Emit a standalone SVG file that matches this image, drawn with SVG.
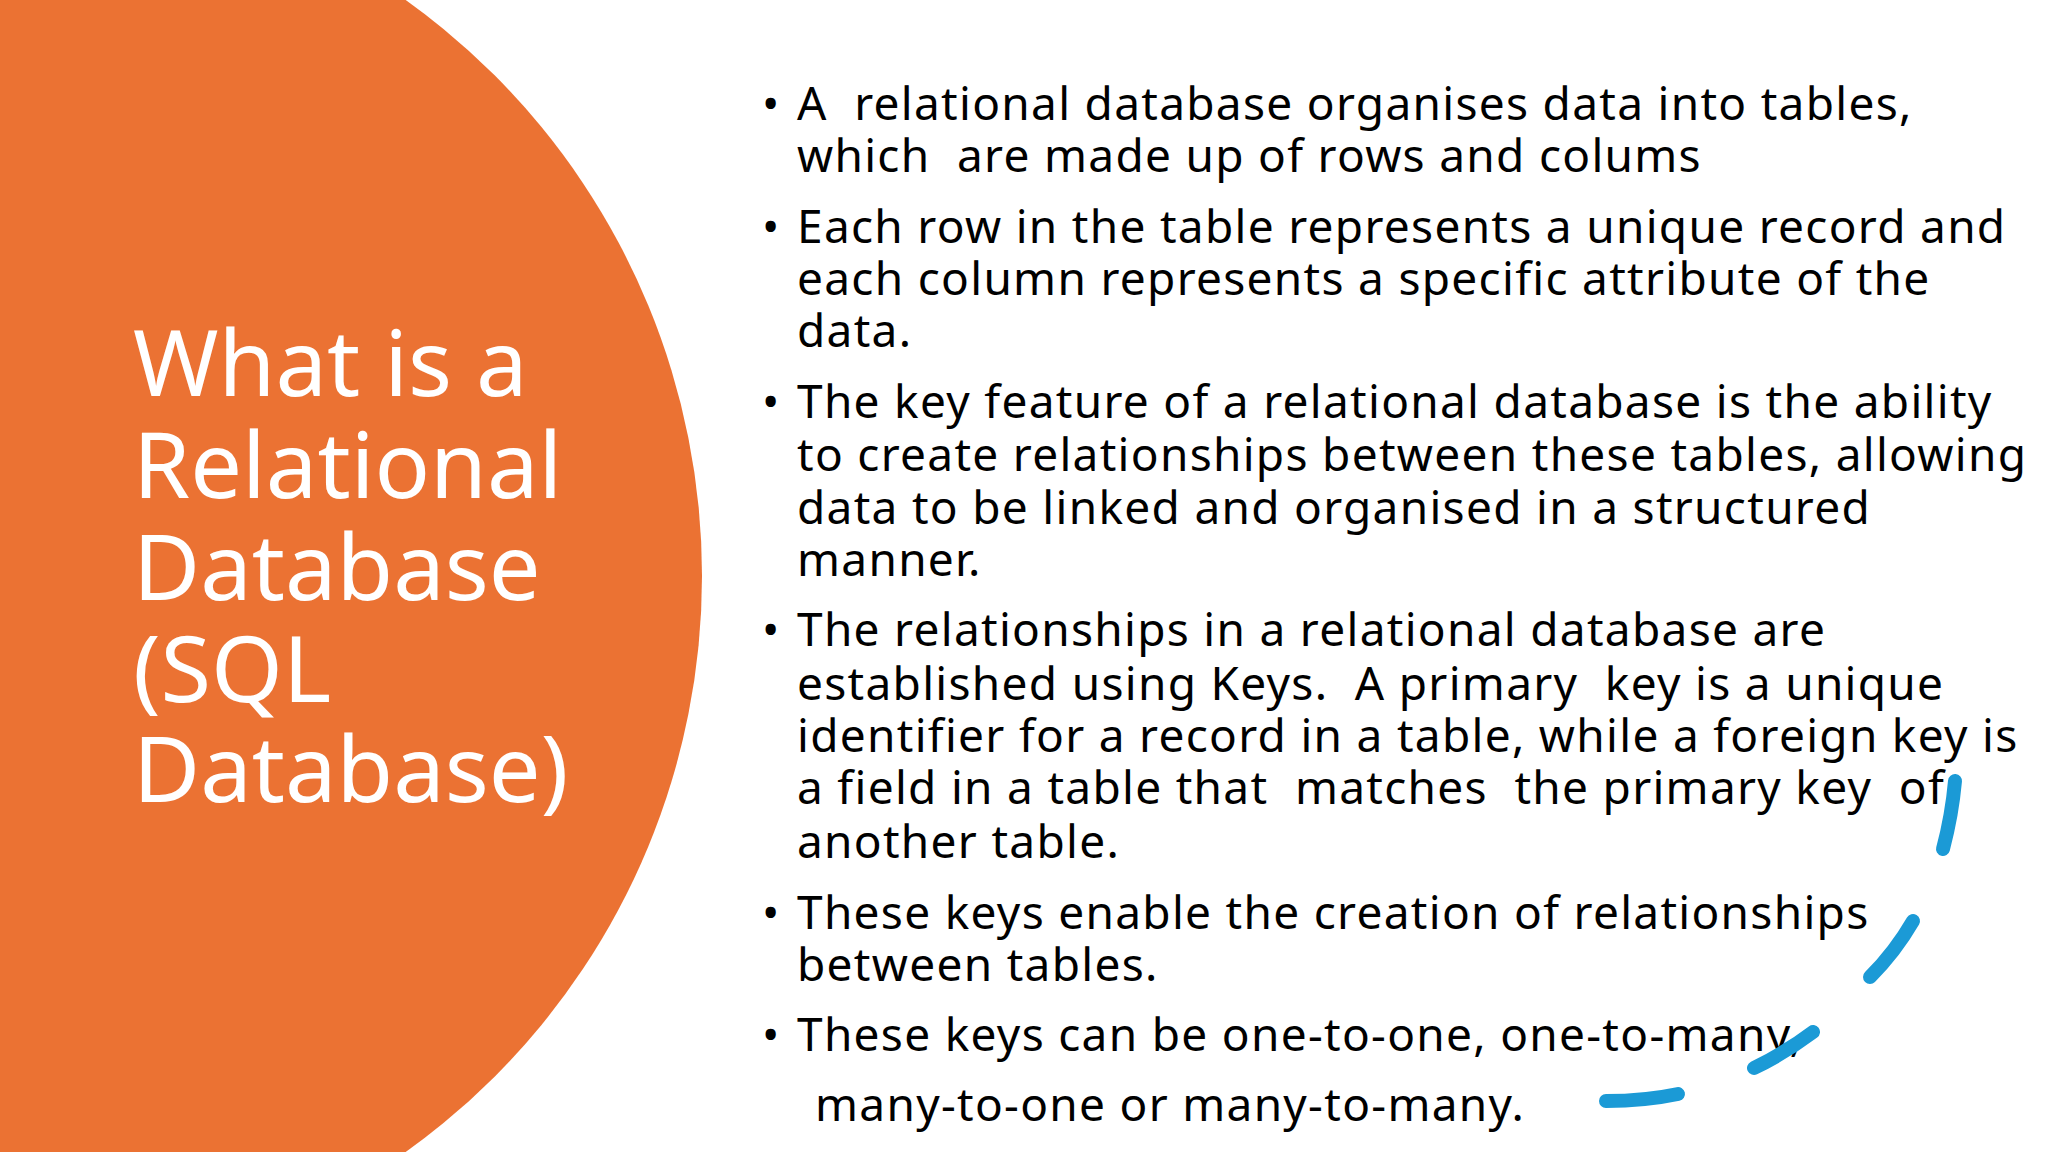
<svg xmlns="http://www.w3.org/2000/svg" width="2048" height="1152" viewBox="0 0 2048 1152">
<style>
.t{font-family:"Noto Sans","Open Sans",sans-serif;fill:#fff;font-size:92px}
.b{font-family:"Noto Sans","Open Sans",sans-serif;fill:#000;font-size:46px;letter-spacing:1.3px}
.p{fill:none;stroke:#1B9AD6;stroke-width:14;stroke-linecap:round}
</style>
<rect width="2048" height="1152" fill="#fff"/>
<g id="circle"><circle cx="-6" cy="576" r="708" fill="#EB7233"/>
<text class="t" x="133" y="396">What is a</text>
<text class="t" x="133" y="498">Relational</text>
<text class="t" x="133" y="600">Database</text>
<text class="t" x="133" y="702">(SQL</text>
<text class="t" x="133" y="802">Database)</text></g>
<g id="bullets">
<text class="b" x="762" y="120">•</text><text class="b" x="797" y="120">A&#160; relational database organises data into tables,</text>
<text class="b" x="797" y="172">which&#160; are made up of rows and colums</text>
<text class="b" x="762" y="243">•</text><text class="b" x="797" y="243">Each row in the table represents a unique record and</text>
<text class="b" x="797" y="295">each column represents a specific attribute of the</text>
<text class="b" x="797" y="347">data.</text>
<text class="b" x="762" y="418">•</text><text class="b" x="797" y="418">The key feature of a relational database is the ability</text>
<text class="b" x="797" y="471">to create relationships between these tables, allowing</text>
<text class="b" x="797" y="524">data to be linked and organised in a structured</text>
<text class="b" x="797" y="576">manner.</text>
<text class="b" x="762" y="646">•</text><text class="b" x="797" y="646">The relationships in a relational database are</text>
<text class="b" x="797" y="700">established using Keys.&#160; A primary&#160; key is a unique</text>
<text class="b" x="797" y="752">identifier for a record in a table, while a foreign key is</text>
<text class="b" x="797" y="804">a field in a table that&#160; matches&#160; the primary key&#160; of</text>
<text class="b" x="797" y="858">another table.</text>
<text class="b" x="762" y="929">•</text><text class="b" x="797" y="929">These keys enable the creation of relationships</text>
<text class="b" x="797" y="981">between tables.</text>
<text class="b" x="762" y="1051">•</text><text class="b" x="797" y="1051">These keys can be one-to-one, one-to-many,</text>
<text class="b" x="815" y="1121">many-to-one or many-to-many.</text>
</g>
<g id="strokes">
<path class="p" d="M1955 781 Q1952 815 1943 849"/>
<path class="p" d="M1913 921 Q1895 952 1870 977"/>
<path class="p" d="M1813 1032 Q1785 1053 1754 1068"/>
<path class="p" d="M1678 1094 Q1645 1101 1606 1101"/>
</g>
</svg>
